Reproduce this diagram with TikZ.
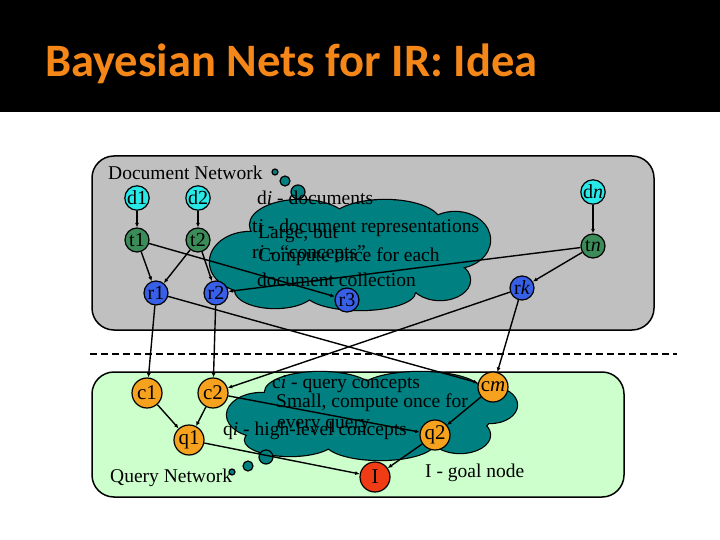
\documentclass[tikz,border=0pt]{standalone}
\usepackage{fontspec}
\setmainfont{Liberation Serif}
\newfontfamily\titlefont{Carlito}
\usetikzlibrary{arrows.meta}

\definecolor{docgray}{RGB}{192,192,192}
\definecolor{qrygreen}{RGB}{204,255,204}
\definecolor{cloudteal}{RGB}{0,128,128}
\definecolor{titleorange}{RGB}{245,135,25}
\definecolor{dcol}{RGB}{40,232,232}
\definecolor{tcol}{RGB}{60,140,90}
\definecolor{rcol}{RGB}{55,95,232}
\definecolor{qcol}{RGB}{246,162,30}
\definecolor{gcol}{RGB}{240,60,20}

\begin{document}
\begin{tikzpicture}[x=1pt,y=-1pt,
  nd/.style={circle,draw=black,line width=1.2pt,inner sep=0pt,minimum size=24pt,font=\fontsize{20}{20}\selectfont},
  big/.style={minimum size=30pt,font=\fontsize{21}{21}\selectfont},
  lnk/.style={line width=1.4pt,-{Latex[length=4.5pt,width=4pt]}},
  txt/.style={anchor=west,inner sep=0pt,font=\fontsize{19.5}{20}\selectfont},
  puff/.style={circle,draw=black,line width=1.2pt,fill=cloudteal,inner sep=0pt}]
\useasboundingbox (0,0) rectangle (720,540);
\fill[black] (0,0) rectangle (720,112);
\node[anchor=base west,inner sep=0pt,text=titleorange,font=\titlefont\bfseries\fontsize{46.5}{46}\selectfont] (title) at (45,77) {Bayesian Nets for IR: Idea};
\draw[line width=1.5pt,fill=docgray,rounded corners=22pt] (92,156) rectangle (654,330);
\draw[line width=1.5pt,fill=qrygreen,rounded corners=22pt] (92,372) rectangle (624,497);
\draw[line width=1.5pt,dash pattern=on 7pt off 4pt] (90,354) -- (677,354);
% thought clouds
\foreach \x/\y/\a/\b in {250/262/40/30,300/225/50/25,385/222/55/22,455/240/35/28,440/280/30/20,360/292/55/18,275/290/40/18,350/260/110/40,
  262/415/35/22,320/392/55/20,420/390/60/18,490/405/27/18,460/435/30/18,380/442/55/18,290/440/45/16,370/418/120/30} {
  \draw[line width=2.4pt] (\x,\y) ellipse [x radius=\a,y radius=\b];
}
\foreach \x/\y/\a/\b in {250/262/40/30,300/225/50/25,385/222/55/22,455/240/35/28,440/280/30/20,360/292/55/18,275/290/40/18,350/260/110/40,
  262/415/35/22,320/392/55/20,420/390/60/18,490/405/27/18,460/435/30/18,380/442/55/18,290/440/45/16,370/418/120/30} {
  \fill[cloudteal] (\x,\y) ellipse [x radius=\a,y radius=\b];
}
\foreach \n/\x/\y/\s in {pa1/298/192/14,pa2/285/181/10,pa3/275/172/6,pb1/266/457/14,pb2/248/466/10,pb3/232/472/6} {
  \node[puff,minimum size=\s pt] (\n) at (\x,\y) {};
}
\node[txt] (docnet) at (108,173) {Document Network};
\node[txt] (dtxt) at (257,198) {d\textit{i} - documents};
\node[txt] (ttxt) at (252,228) {t\textit{i} - document representations};
\node[txt] (rtxt) at (252,254) {r\textit{i} - “concepts”};
\node[txt] (largetxt) at (258,234) {Large, but};
\node[txt] (computetxt) at (258,257) {Compute once for each};
\node[txt] (colltxt) at (257,280) {document collection};
\node[txt] (ctxt) at (272,384) {c\textit{i} - query concepts};
\node[txt] (smalltxt) at (276,403) {Small, compute once for};
\node[txt] (qtxt) at (223,431) {q\textit{i} - high-level concepts};
\node[txt] (everytxt) at (277,426) {every query};
\node[txt] (goaltxt) at (425,473) {I - goal node};
\node[txt] (qrynet) at (110,478) {Query Network};
\foreach \n/\x/\y/\t in {d1/137/198/d1,d2/198/198/d2,dn/593/192/{d\textit{n}}} {
  \node[nd,fill=dcol] (\n) at (\x,\y) {\t};
}
\foreach \n/\x/\y/\t in {t1/137/240/t1,t2/198/240/t2,tn/593/246/{t\textit{n}}} {
  \node[nd,fill=tcol] (\n) at (\x,\y) {\t};
}
\foreach \n/\x/\y/\t in {r1/156/293/r1,r2/216/293/r2,r3/347/300/r3,rk/522/288/{r\textit{k}}} {
  \node[nd,fill=rcol] (\n) at (\x,\y) {\t};
}
\foreach \n/\x/\y/\t in {c1/147/393/c1,c2/213/393/c2,cm/493/387/{c\textit{m}},q1/189/440/q1,q2/435/435/q2} {
  \node[nd,big,fill=qcol] (\n) at (\x,\y) {\t};
}
\node[nd,big,fill=gcol] (goal) at (375,477) {I};
\foreach \a/\b in {d1/t1,d2/t2,dn/tn,t1/r1,t2/r1,t2/r2,t1/r3,tn/r2,tn/rk,r1/c1,r2/c2,r1/cm,rk/c2,rk/cm,c1/q1,c2/q1,c2/q2,cm/q2,q1/goal,q2/goal} {
  \draw[lnk] (\a) -- (\b);
}
\end{tikzpicture}
\end{document}
